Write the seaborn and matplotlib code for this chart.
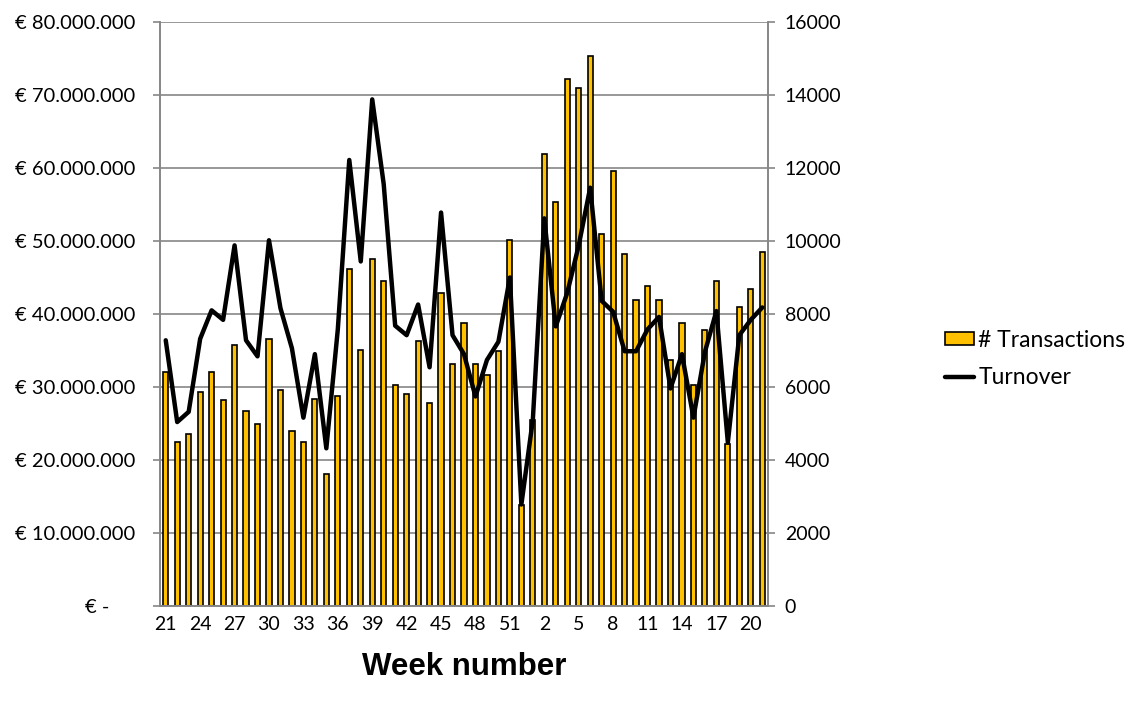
"""weekly turnover and transactions chart"""
# Imports
import numpy as np
import pandas as pd
import matplotlib
matplotlib.use("Agg")
import matplotlib.pyplot as plt
import matplotlib.ticker as mticker
from matplotlib.patches import Patch
from matplotlib.lines import Line2D
import seaborn as sns

# week numbers, from week 21 one year to week 21 the next
weeks = list(range(21, 53)) + list(range(1, 22))

# number of transactions per week (right axis)
transactions = [6400, 4490, 4710, 5860, 6420, 5650, 7160, 5340, 4980, 7320,
                5920, 4800, 4480, 5680, 3630, 5740, 9230, 7020, 9500, 8900,
                6050, 5810, 7270, 5550, 8570, 6640, 7760, 6640, 6330, 7000,
                10020, 2760, 5100, 12390, 11060, 14450, 14190, 15070, 10190, 11910,
                9640, 8390, 8770, 8390, 6740, 7760, 6050, 7550, 8900, 4430,
                8200, 8680, 9710]

# turnover per week in million euro (left axis)
turnover_m = [36.4, 25.2, 26.6, 36.6, 40.5, 39.2, 49.4, 36.4, 34.2, 50.1,
              40.8, 35.3, 25.8, 34.5, 21.6, 37.9, 61.1, 47.2, 69.4, 57.8,
              38.4, 37.1, 41.3, 32.7, 53.9, 37.1, 34.5, 28.7, 33.7, 36.2,
              45.0, 13.9, 25.5, 53.1, 38.3, 42.9, 49.4, 57.3, 41.8, 40.3,
              34.9, 34.9, 37.9, 39.6, 29.8, 34.5, 25.8, 34.8, 40.4, 22.4,
              37.1, 39.2, 40.9]

df = pd.DataFrame({
    "pos": range(len(weeks)),
    "week": weeks,
    "transactions": transactions,
    "turnover": [v * 1e6 for v in turnover_m],
})

sns.set_style("white")
plt.rcParams["font.family"] = ["Lato", "DejaVu Sans"]
plt.rcParams["text.color"] = "black"
plt.rcParams["axes.labelcolor"] = "black"

grey = "#868686"
fig, ax = plt.subplots(figsize=(11.42, 7.04), dpi=100)
fig.subplots_adjust(left=160 / 1142, right=768 / 1142, top=1 - 22 / 704, bottom=1 - 606 / 704)
ax2 = ax.twinx()

# bars on the right axis
sns.barplot(data=df, x="pos", y="transactions", ax=ax2, color="#FFC000",
            saturation=1, width=0.45, edgecolor="black", linewidth=1.2)
ax2.set_ylim(0, 16000)
ax2.set_yticks(np.arange(0, 16001, 2000))
ax2.yaxis.grid(True, color=grey, linewidth=1.2)
ax2.set_axisbelow(True)
ax2.set_ylabel("")
ax2.set_xlabel("")

# line on the left axis, drawn above the bars
sns.lineplot(data=df, x="pos", y="turnover", ax=ax, color="black", linewidth=3.2)
ax.set_zorder(ax2.get_zorder() + 1)
ax.patch.set_visible(False)
ax.set_ylim(0, 80e6)
ax.set_yticks(np.arange(0, 80e6 + 1, 10e6))


def euro(v, _):
    if v == 0:
        return "€ -     "
    return "€ " + f"{v:,.0f}".replace(",", ".")


ax.yaxis.set_major_formatter(mticker.FuncFormatter(euro))
ax.set_xlim(-0.5, len(weeks) - 0.5)
ax2.set_xlim(-0.5, len(weeks) - 0.5)

lab_pos = list(range(0, len(weeks), 3))
ax.set_xticks(lab_pos)
ax.set_xticklabels([str(weeks[i]) for i in lab_pos])
ax.set_xticks(np.arange(-0.5, len(weeks), 2), minor=True)
ax.tick_params(axis="x", which="major", length=0, pad=7, labelsize=14, labelcolor="black")
ax.tick_params(axis="x", which="minor", length=6, color=grey, width=1.2)
ax.tick_params(axis="y", length=5, color=grey, width=1.2, labelsize=14.5, pad=13, labelcolor="black")
ax2.tick_params(axis="y", length=5, color=grey, width=1.2, labelsize=14, pad=7, labelcolor="black")
ax2.tick_params(axis="x", length=0, labelbottom=False)

ax.set_ylabel("")
ax.set_xlabel("Week number", fontsize=22.5, fontweight="bold",
              family="Liberation Sans", labelpad=14)

for a in (ax, ax2):
    a.spines["top"].set_visible(False)
    for s in ("left", "right", "bottom"):
        a.spines[s].set_color(grey)
        a.spines[s].set_linewidth(1.2)

handles = [Patch(facecolor="#FFC000", edgecolor="black", linewidth=1.2),
           Line2D([0], [0], color="black", linewidth=3.2)]
fig.legend(handles, ["# Transactions", "Turnover"], loc="center left",
           bbox_to_anchor=(945 / 1142, 1 - 359 / 704), frameon=False,
           fontsize=16.5, handlelength=1.25, handleheight=0.5, handletextpad=0.2,
           labelspacing=0.7, borderpad=0, borderaxespad=0)

plt.savefig("out.png", dpi=100)
